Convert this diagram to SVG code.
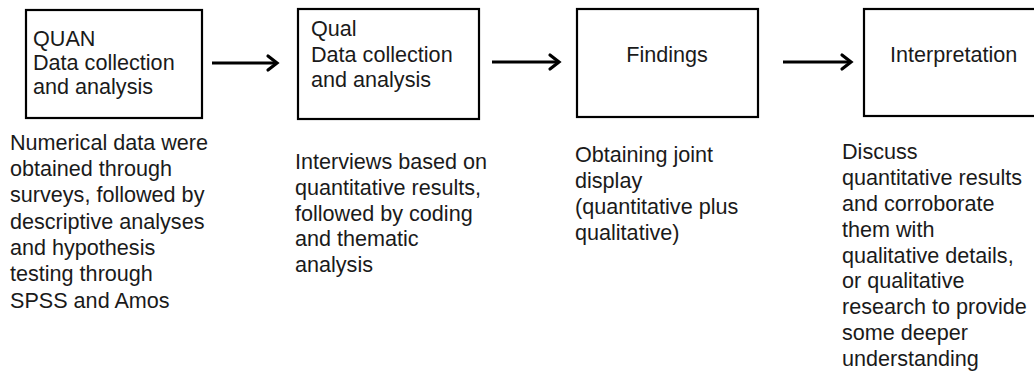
<svg xmlns="http://www.w3.org/2000/svg" width="1034" height="374" viewBox="0 0 1034 374">
  <style>
    .box { fill: #fff; stroke: #000; stroke-width: 2.2; }
    .t { font-family: "Liberation Sans", Arial, sans-serif; font-size: 21.6px; fill: #1a1a1a; }
    .edge { stroke: #000; stroke-width: 3; fill: none; }
    .head { stroke: #000; stroke-width: 3.2; fill: none; stroke-linecap: round; stroke-linejoin: miter; }
  </style>
  <rect width="1034" height="374" fill="#fff"/>

  <g id="quan">
    <rect class="box" x="26" y="10" width="176" height="108"/>
    <text class="t" x="33" y="46">QUAN</text>
    <text class="t" x="33" y="70">Data collection</text>
    <text class="t" x="33" y="94">and analysis</text>
    <text class="t" x="10" y="150">Numerical data were</text>
    <text class="t" x="10" y="176">obtained through</text>
    <text class="t" x="10" y="202">surveys, followed by</text>
    <text class="t" x="10" y="229">descriptive analyses</text>
    <text class="t" x="10" y="255">and hypothesis</text>
    <text class="t" x="10" y="281">testing through</text>
    <text class="t" x="10" y="308">SPSS and Amos</text>
  </g>

  <g id="qual">
    <rect class="box" x="298" y="9" width="181" height="110"/>
    <text class="t" x="311" y="36">Qual</text>
    <text class="t" x="311" y="62">Data collection</text>
    <text class="t" x="311" y="87">and analysis</text>
    <text class="t" x="295" y="169">Interviews based on</text>
    <text class="t" x="295" y="195">quantitative results,</text>
    <text class="t" x="295" y="221">followed by coding</text>
    <text class="t" x="295" y="246">and thematic</text>
    <text class="t" x="295" y="272">analysis</text>
  </g>

  <g id="findings">
    <rect class="box" x="577" y="9" width="181" height="108"/>
    <text class="t" x="667" y="62" text-anchor="middle">Findings</text>
    <text class="t" x="575" y="162">Obtaining joint</text>
    <text class="t" x="575" y="188">display</text>
    <text class="t" x="575" y="214">(quantitative plus</text>
    <text class="t" x="575" y="240">qualitative)</text>
  </g>

  <g id="interpretation">
    <rect class="box" x="864" y="9" width="180" height="107"/>
    <text class="t" x="890" y="62">Interpretation</text>
    <text class="t" x="842" y="159">Discuss</text>
    <text class="t" x="842" y="185">quantitative results</text>
    <text class="t" x="842" y="211">and corroborate</text>
    <text class="t" x="842" y="237">them with</text>
    <text class="t" x="842" y="263">qualitative details,</text>
    <text class="t" x="842" y="288">or qualitative</text>
    <text class="t" x="842" y="314">research to provide</text>
    <text class="t" x="842" y="340">some deeper</text>
    <text class="t" x="842" y="366">understanding</text>
  </g>

  <g id="connectors">
    <line class="edge" x1="212" y1="63" x2="276" y2="63"/>
    <polyline class="head" points="268,56 277,63 268,70"/>
    <line class="edge" x1="492" y1="62" x2="558" y2="62"/>
    <polyline class="head" points="550,55 559,62 550,69"/>
    <line class="edge" x1="783" y1="62" x2="850" y2="62"/>
    <polyline class="head" points="842,55 851,62 842,69"/>
  </g>
</svg>
